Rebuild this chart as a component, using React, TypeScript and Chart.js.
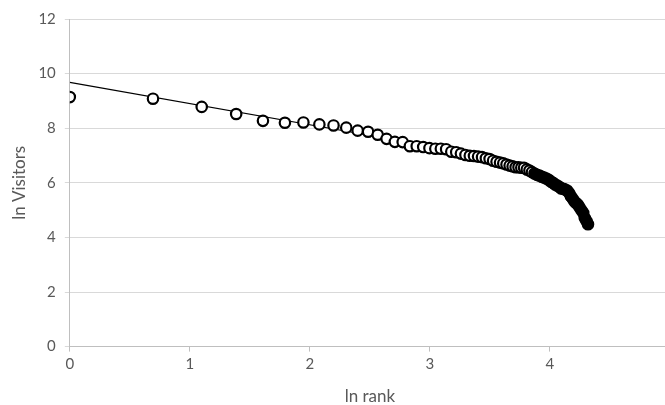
import React, { useEffect, useRef } from "react";
import { Chart, registerables } from "chart.js";

Chart.register(...registerables);

// ln(rank) for ranks 1..75
const lnRank = [
  0, 0.693, 1.099, 1.386, 1.609, 1.792, 1.946, 2.079, 2.197, 2.303,
  2.398, 2.485, 2.565, 2.639, 2.708, 2.773, 2.833, 2.89, 2.944, 2.996,
  3.045, 3.091, 3.135, 3.178, 3.219, 3.258, 3.296, 3.332, 3.367, 3.401,
  3.434, 3.466, 3.497, 3.526, 3.555, 3.584, 3.611, 3.638, 3.664, 3.689,
  3.714, 3.738, 3.761, 3.784, 3.807, 3.829, 3.85, 3.871, 3.892, 3.912,
  3.932, 3.951, 3.97, 3.989, 4.007, 4.025, 4.043, 4.06, 4.078, 4.094,
  4.111, 4.127, 4.143, 4.159, 4.174, 4.19, 4.205, 4.22, 4.234, 4.248,
  4.263, 4.277, 4.29, 4.304, 4.317,
];

const lnVisitors = [
  9.14, 9.08, 8.78, 8.52, 8.27, 8.2, 8.21, 8.14, 8.1, 8.02,
  7.91, 7.87, 7.76, 7.61, 7.5, 7.49, 7.34, 7.34, 7.31, 7.27,
  7.25, 7.25, 7.23, 7.14, 7.12, 7.07, 7.02, 6.99, 6.98, 6.96,
  6.94, 6.9, 6.87, 6.81, 6.77, 6.74, 6.71, 6.67, 6.63, 6.6,
  6.57, 6.57, 6.55, 6.55, 6.49, 6.45, 6.39, 6.34, 6.29, 6.27,
  6.22, 6.19, 6.16, 6.11, 6.05, 6.0, 5.94, 5.9, 5.85, 5.79,
  5.78, 5.75, 5.72, 5.63, 5.51, 5.41, 5.31, 5.25, 5.19, 5.09,
  4.99, 4.9, 4.71, 4.6, 4.48,
];

// first rank index drawn with filled markers
const filledFrom = 47;

// trend line end points
const trendX = [0, 2.6];
const trendY = [9.68, 7.66];

const xTicks = [0, 1, 2, 3, 4, 5];
const yTicks = [0, 2, 4, 6, 8, 10, 12];

export default function App() {
  const ref = useRef<HTMLCanvasElement>(null);

  useEffect(() => {
    if (!ref.current) return;
    const pts = lnRank.map((x, i) => ({ x, y: lnVisitors[i] }));
    const fills = lnRank.map((_, i) => (i >= filledFrom ? "#000000" : "#ffffff"));
    const trend = trendX.map((x, i) => ({ x, y: trendY[i] }));
    const tickFont = { family: "Lato", size: 15 };
    const chart = new Chart(ref.current, {
      type: "scatter",
      data: {
        datasets: [
          {
            label: "ln Visitors",
            data: pts,
            pointRadius: 5.2,
            pointBorderWidth: 2.2,
            pointBorderColor: "#000000",
            pointBackgroundColor: fills,
            showLine: false,
            order: 1,
          },
          {
            label: "trend",
            data: trend,
            showLine: true,
            pointRadius: 0,
            borderColor: "#000000",
            borderWidth: 1.2,
            order: 2,
          },
        ],
      },
      options: {
        responsive: false,
        animation: false,
        layout: { padding: { left: 1, top: 0, right: 18, bottom: 0 } },
        plugins: { legend: { display: false }, tooltip: { enabled: false } },
        scales: {
          x: {
            type: "linear",
            min: 0,
            max: 5,
            afterBuildTicks: (s: any) => {
              s.ticks = xTicks.map((v) => ({ value: v }));
            },
            grid: { drawOnChartArea: false, drawTicks: true, tickLength: 5, color: "#bfbfbf" },
            border: { color: "#bfbfbf", width: 1 },
            ticks: { color: "#595959", font: tickFont, padding: 4 },
            title: {
              display: true,
              text: "ln rank",
              color: "#595959",
              font: { family: "Lato", size: 17 },
              padding: { top: 9, bottom: 0 },
            },
          },
          y: {
            type: "linear",
            min: 0,
            max: 12,
            afterBuildTicks: (s: any) => {
              s.ticks = yTicks.map((v) => ({ value: v }));
            },
            grid: { color: "#d9d9d9", tickLength: 5, lineWidth: 1 },
            border: { color: "#bfbfbf", width: 1 },
            ticks: { color: "#595959", font: tickFont, padding: 9 },
            title: {
              display: true,
              text: "ln Visitors",
              color: "#595959",
              font: { family: "Lato", size: 17 },
              padding: { top: 0, bottom: 0 },
            },
          },
        },
      },
    });
    return () => chart.destroy();
  }, []);

  return (
    <div
      style={{
        position: "fixed",
        left: 0,
        top: 0,
        width: 665,
        height: 405,
        overflow: "hidden",
        background: "#ffffff",
      }}
    >
      <canvas
        ref={ref}
        width={680}
        height={406}
        style={{ display: "block", width: 680, height: 406, marginLeft: 8, marginTop: 1 }}
      />
    </div>
  );
}
